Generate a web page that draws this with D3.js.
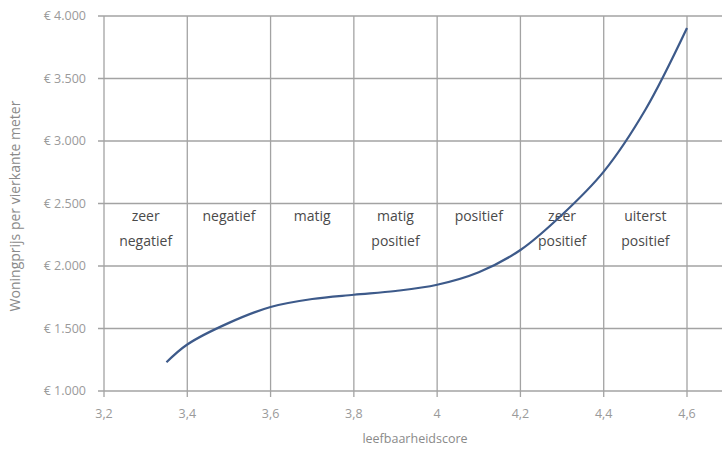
<!DOCTYPE html>
<html>
<head>
<meta charset="utf-8">
<script src="https://cdn.jsdelivr.net/npm/d3@7"></script>
<style>
  body { margin: 0; background: #fff; }
  text { font-family: "Open Sans", "Liberation Sans", sans-serif; }
</style>
</head>
<body>
<div id="container"></div>
<script>
// curve
let scores = [3.35, 3.4, 3.5, 3.6, 3.7, 3.8, 3.9, 4.0, 4.1, 4.2, 4.3, 4.4, 4.5, 4.6];
let prices = [1230, 1372, 1545, 1672, 1736, 1770, 1800, 1850, 1950, 2128, 2410, 2755, 3250, 3904];

let xTicks = [3.2, 3.4, 3.6, 3.8, 4.0, 4.2, 4.4, 4.6];
let yTicks = [1000, 1500, 2000, 2500, 3000, 3500, 4000];

// band labels, one per column between x gridlines
let bandStart = [3.2, 3.4, 3.6, 3.8, 4.0, 4.2, 4.4];
let bandLabels = [
  ["zeer", "negatief"], ["negatief"], ["matig"], ["matig", "positief"],
  ["positief"], ["zeer", "positief"], ["uiterst", "positief"]
];

let w = 722;
let h = 449;

let viz = d3.select("#container")
  .append("svg")
    .attr("width", w)
    .attr("height", h);

let xScale = d3.scaleLinear().domain([3.2, 4.6]).range([104, 687]);
let yScale = d3.scaleLinear().domain([1000, 4000]).range([391, 16]);

let gridColor = "#a3a3a3";

// horizontal gridlines run to the right edge
viz.append("g").selectAll("line").data(yTicks).enter()
  .append("line")
    .attr("x1", 98)
    .attr("x2", w)
    .attr("y1", d => yScale(d))
    .attr("y2", d => yScale(d))
    .attr("stroke", gridColor)
    .attr("stroke-width", 1.3);

// vertical gridlines, with tick stubs below the axis
viz.append("g").selectAll("line").data(xTicks).enter()
  .append("line")
    .attr("x1", d => xScale(d))
    .attr("x2", d => xScale(d))
    .attr("y1", yScale(4000))
    .attr("y2", yScale(1000) + 6)
    .attr("stroke", gridColor)
    .attr("stroke-width", 1.3);

let euro = d => "€ " + d3.format(",")(d).replace(",", ".");

viz.append("g").selectAll("text").data(yTicks).enter()
  .append("text")
    .attr("x", 86)
    .attr("y", d => yScale(d))
    .attr("dy", "0.35em")
    .attr("text-anchor", "end")
    .attr("font-size", 12.5)
    .attr("fill", "#9a9a9a")
    .text(euro);

viz.append("g").selectAll("text").data(xTicks).enter()
  .append("text")
    .attr("x", d => xScale(d))
    .attr("y", 414)
    .attr("dy", "0.35em")
    .attr("text-anchor", "middle")
    .attr("font-size", 12.5)
    .attr("fill", "#9a9a9a")
    .text(d => String(d).replace(".", ","));

// axis titles
viz.append("text")
  .attr("x", 415)
  .attr("y", 439)
  .attr("dy", "0.35em")
  .attr("text-anchor", "middle")
  .attr("font-size", 12.5)
  .attr("fill", "#8a8a8a")
  .text("leefbaarheidscore");

viz.append("text")
  .attr("transform", "translate(15,206) rotate(-90)")
  .attr("dy", "0.35em")
  .attr("text-anchor", "middle")
  .attr("font-size", 14)
  .attr("fill", "#8a8a8a")
  .text("Woningprijs per vierkante meter");

// band labels
let bandGroup = viz.append("g");
bandLabels.forEach(function(lines, i){
  let cx = (xScale(bandStart[i]) + xScale(bandStart[i] + 0.2)) / 2;
  lines.forEach(function(txt, j){
    bandGroup.append("text")
      .attr("x", cx)
      .attr("y", 221 + j * 25)
      .attr("text-anchor", "middle")
      .attr("font-size", 14)
      .attr("fill", "#4a4a4a")
      .text(txt);
  });
});

// the curve
let lineMaker = d3.line()
  .x((d, i) => xScale(scores[i]))
  .y(d => yScale(d))
  .curve(d3.curveCatmullRom);

viz.append("path")
  .datum(prices)
  .attr("d", lineMaker)
  .attr("fill", "none")
  .attr("stroke", "#3d5a8a")
  .attr("stroke-width", 2.2);
</script>
</body>
</html>
